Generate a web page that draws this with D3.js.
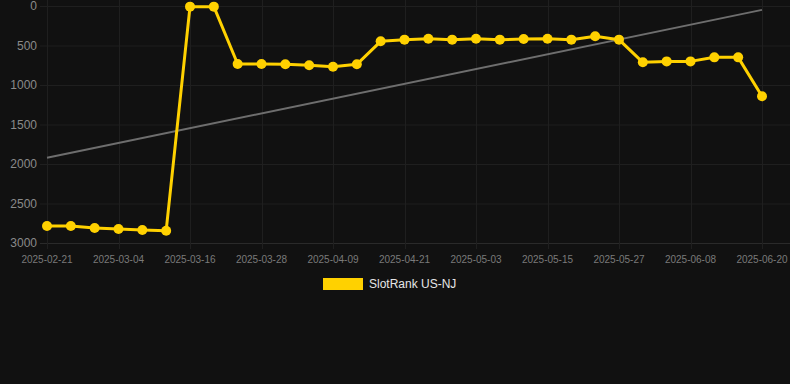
<!DOCTYPE html>
<html>
<head>
<meta charset="utf-8">
<script src="https://cdn.jsdelivr.net/npm/d3@7"></script>
<style>
  html, body { margin: 0; padding: 0; background: #111111; }
  svg { display: block; }
</style>
</head>
<body>
<svg id="chart"></svg>
<script>
// dates (one point every ~4 days)
const dates = [
    '2025-02-21', '2025-02-25', '2025-02-28', '2025-03-04', '2025-03-08', '2025-03-12',
    '2025-03-16', '2025-03-20', '2025-03-24', '2025-03-28', '2025-04-01', '2025-04-05',
    '2025-04-09', '2025-04-13', '2025-04-17', '2025-04-21', '2025-04-25', '2025-04-29',
    '2025-05-03', '2025-05-07', '2025-05-11', '2025-05-15', '2025-05-19', '2025-05-23',
    '2025-05-27', '2025-05-31', '2025-06-04', '2025-06-08', '2025-06-12', '2025-06-16',
    '2025-06-20'
];

// rank values for SlotRank US-NJ
const rankValues = [
    2785, 2785, 2810, 2823, 2835, 2844,
    8, 8, 734, 734, 738, 751,
    768, 738, 447, 426, 414, 426,
    414, 426, 418, 414, 426, 384,
    426, 713, 701, 701, 650, 650,
    1143
];

const yTicks = [0, 500, 1000, 1500, 2000, 2500, 3000];
const xTickLabels = dates.filter((d, i) => i % 3 === 0);
const seriesName = 'SlotRank US-NJ';

const width = 790;
const height = 384;
const yellow = '#FFD100';
const font = '"Liberation Sans", Arial, Helvetica, sans-serif';

const svg = d3.select('#chart')
    .attr('width', width)
    .attr('height', height);

const x = d3.scalePoint()
    .domain(dates)
    .range([47, 762]);

// reversed: rank 0 at top
const y = d3.scaleLinear()
    .domain([0, 3000])
    .range([6, 243]);

// grid lines
svg.append('g')
    .selectAll('line')
    .data(yTicks)
    .join('line')
    .attr('x1', 40)
    .attr('x2', width)
    .attr('y1', d => y(d) + 0.5)
    .attr('y2', d => y(d) + 0.5)
    .attr('stroke', d => d === 3000 ? '#2a2a2a' : '#1f1f1f')
    .attr('stroke-width', 1);

svg.append('g')
    .selectAll('line')
    .data(xTickLabels)
    .join('line')
    .attr('x1', d => Math.round(x(d)) + 0.5)
    .attr('x2', d => Math.round(x(d)) + 0.5)
    .attr('y1', 0)
    .attr('y2', 249)
    .attr('stroke', '#1f1f1f')
    .attr('stroke-width', 1);

// y axis labels
svg.append('g')
    .selectAll('text')
    .data(yTicks)
    .join('text')
    .attr('x', 37)
    .attr('y', d => y(d))
    .attr('dy', '0.35em')
    .attr('text-anchor', 'end')
    .attr('font-family', font)
    .attr('font-size', 12)
    .attr('fill', '#8a8a8a')
    .text(d => d);

// x axis labels
svg.append('g')
    .selectAll('text')
    .data(xTickLabels)
    .join('text')
    .attr('x', d => x(d))
    .attr('y', 259)
    .attr('dy', '0.35em')
    .attr('text-anchor', 'middle')
    .attr('font-family', font)
    .attr('font-size', 10)
    .attr('fill', '#7a7a7a')
    .text(d => d);

// trend line (least squares over the series)
const n = rankValues.length;
const meanI = d3.mean(rankValues, (v, i) => i);
const meanV = d3.mean(rankValues);
const slope = d3.sum(rankValues, (v, i) => (i - meanI) * (v - meanV)) /
    d3.sum(rankValues, (v, i) => (i - meanI) * (i - meanI));
const intercept = meanV - slope * meanI;

svg.append('line')
    .attr('x1', x(dates[0]))
    .attr('y1', y(intercept))
    .attr('x2', x(dates[n - 1]))
    .attr('y2', y(intercept + slope * (n - 1)))
    .attr('stroke', '#6e6e6e')
    .attr('stroke-width', 2);

// series line
const line = d3.line()
    .x((v, i) => x(dates[i]))
    .y(v => y(v));

svg.append('path')
    .datum(rankValues)
    .attr('d', line)
    .attr('fill', 'none')
    .attr('stroke', yellow)
    .attr('stroke-width', 3)
    .attr('stroke-linejoin', 'round');

svg.append('g')
    .selectAll('circle')
    .data(rankValues)
    .join('circle')
    .attr('cx', (v, i) => x(dates[i]))
    .attr('cy', v => y(v))
    .attr('r', 5)
    .attr('fill', yellow);

// legend
const legend = svg.append('g');
legend.append('rect')
    .attr('x', 323)
    .attr('y', 278)
    .attr('width', 40)
    .attr('height', 12)
    .attr('fill', yellow);
legend.append('text')
    .attr('x', 369)
    .attr('y', 284)
    .attr('dy', '0.35em')
    .attr('font-family', font)
    .attr('font-size', 12)
    .attr('fill', '#e6e6e6')
    .text(seriesName);
</script>
</body>
</html>
